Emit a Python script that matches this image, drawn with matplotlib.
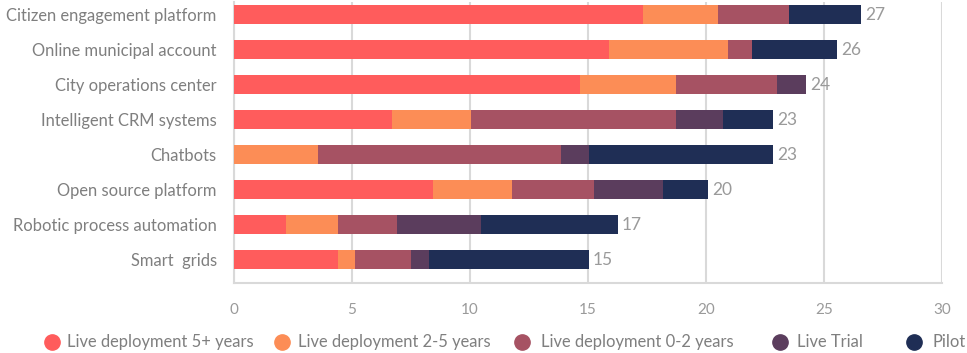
import matplotlib.pyplot as plt
from matplotlib.lines import Line2D
import numpy as np

plt.rcParams['font.family'] = ['Lato', 'DejaVu Sans']

categories = ['Citizen engagement platform', 'Online municipal account',
              'City operations center', 'Intelligent CRM systems', 'Chatbots',
              'Open source platform', 'Robotic process automation', 'Smart  grids']
series = ['Live deployment 5+ years', 'Live deployment 2-5 years',
          'Live deployment 0-2 years', 'Live Trial', 'Pilot']
live_5plus = [17.34, 15.90, 14.66, 6.73, 0.00, 8.43, 2.23, 4.43]
live_2to5 = [3.18, 5.05, 4.08, 3.31, 3.59, 3.35, 2.20, 0.73]
live_0to2 = [3.02, 1.02, 4.29, 8.70, 10.27, 3.48, 2.51, 2.37]
live_trial = [0.00, 0.00, 1.23, 1.99, 1.19, 2.93, 3.52, 0.73]
pilot = [3.04, 3.60, 0.00, 2.13, 7.81, 1.91, 5.82, 6.79]
totals = [27, 26, 24, 23, 23, 20, 17, 15]

colors = ['#FF5C5C', '#FC8D56', '#A65263', '#5B3D5D', '#1F2E55']
grey_txt = '#7f7f7f'

fig = plt.figure(figsize=(9.67, 3.53), dpi=100)
ax = fig.add_axes([0.2415, 0.198, 0.7327, 0.796])

y = np.arange(len(categories))
left = np.zeros(len(categories))
for vals, name, c in zip([live_5plus, live_2to5, live_0to2, live_trial, pilot], series, colors):
    ax.barh(y, vals, left=left, height=0.54, color=c, label=name, zorder=3)
    left += np.array(vals)

for yi, end, t in zip(y, left, totals):
    ax.text(end + 0.15, yi, str(t), va='center', ha='left', fontsize=12.5, color='#9a9a9a')

ax.set_xlim(0, 30)
ax.set_ylim(7.67, -0.36)
ax.set_xticks(np.arange(0, 31, 5))
ax.set_yticks(y)
ax.set_yticklabels(categories, fontsize=11.9, color=grey_txt)
ax.tick_params(axis='y', length=0, pad=12)
ax.tick_params(axis='x', length=0, pad=14, labelsize=11, labelcolor='#9a9a9a')
ax.xaxis.grid(True, color='#d9d9d9', linewidth=1.5, zorder=0)
for s in ['top', 'right']:
    ax.spines[s].set_visible(False)
for s in ['left', 'bottom']:
    ax.spines[s].set_color('#d9d9d9')
    ax.spines[s].set_linewidth(1.5)

# legend row laid out by hand: marker centre and text start in pixels
leg_marker_x = [52, 282, 522, 780, 914]
leg_text_x = [67, 298, 541, 797, 932]
leg_y = 1 - 342 / 353
W = 967
for mx, tx, name, c in zip(leg_marker_x, leg_text_x, series, colors):
    fig.add_artist(Line2D([mx / W], [leg_y], marker='o', markersize=11, color=c,
                          linestyle='', transform=fig.transFigure))
    fig.text(tx / W, leg_y, name, va='center', ha='left', fontsize=11.9, color=grey_txt)

fig.savefig('out.png', dpi=100)
